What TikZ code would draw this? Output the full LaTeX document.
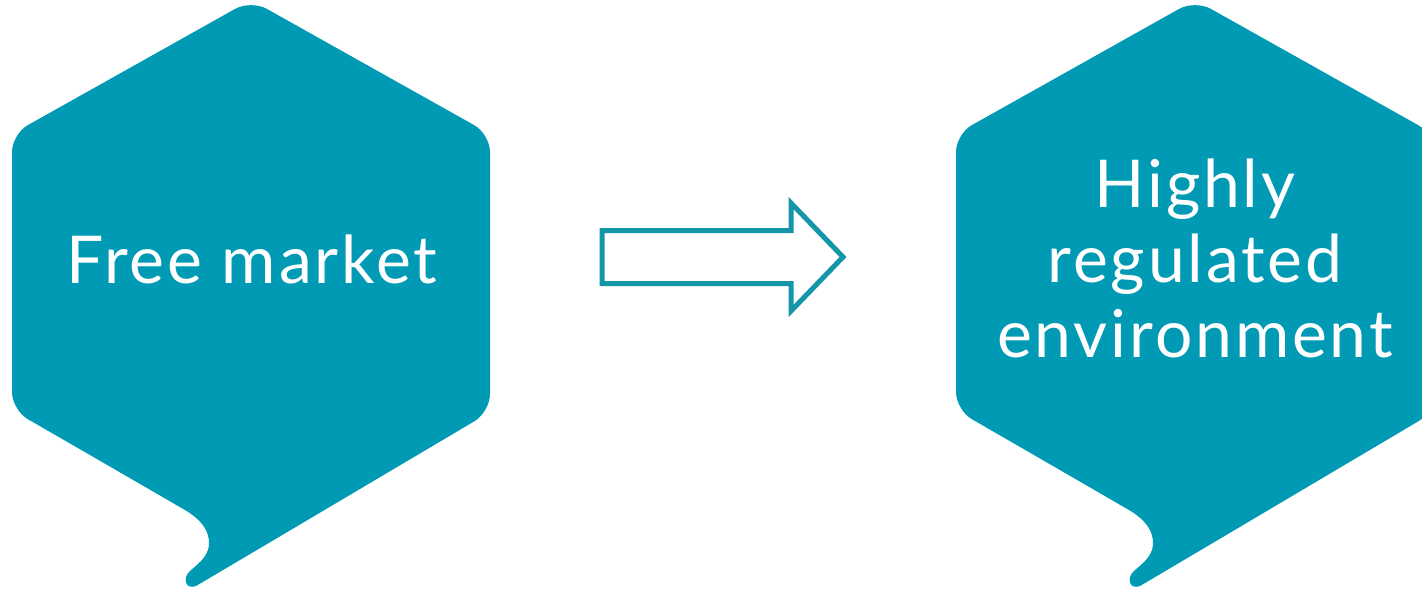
\documentclass[tikz,border=0pt]{standalone}
\usepackage{fontspec}
\newfontfamily\hexfont[LetterSpace=4.3]{Lato}
\definecolor{hexteal}{RGB}{0,154,181}
\definecolor{arrowteal}{RGB}{20,150,168}
\tikzset{
  hexshape/.style={fill=hexteal},
  hexlabel/.style={text=white, font=\hexfont\fontsize{66}{75}\selectfont, align=center, inner sep=0pt},
  blockarrow/.style={draw=arrowteal, line width=5pt, fill=white, line join=miter},
  bubble/.pic={
    \fill[hexshape]
      (300,524.5) [rounded corners=18pt] -- (490,412) -- (490,134) -- (251,0) -- (12,134) -- (12,410)
      -- (100,460.8) [sharp corners] -- (185,510)
      .. controls (200,519) and (210,530) .. (209,545)
      .. controls (208,558) and (195,566) .. (189,572)
      .. controls (183,578) and (185,590) .. (196,586) -- cycle;
  }
}
\begin{document}
\begin{tikzpicture}[x=1pt,y=-1pt]
\useasboundingbox (0,0) rectangle (1422,590);
\pic (left) at (0,0) {bubble};
\pic (right) at (944,0) {bubble};
\node[hexlabel, anchor=base] (free) at (252,283) {Free market};
\node[hexlabel, anchor=base] (reg) at (1195,357) {Highly\\regulated\\environment};
\coordinate (a1) at (602,230.5);
\coordinate (a2) at (791,230.5);
\coordinate (a3) at (791,203);
\coordinate (a4) at (843,257);
\coordinate (a5) at (791,311);
\coordinate (a6) at (791,283.5);
\coordinate (a7) at (602,283.5);
\draw[blockarrow] (a1) -- (a2) -- (a3) -- (a4) -- (a5) -- (a6) -- (a7) -- cycle;
\end{tikzpicture}
\end{document}
